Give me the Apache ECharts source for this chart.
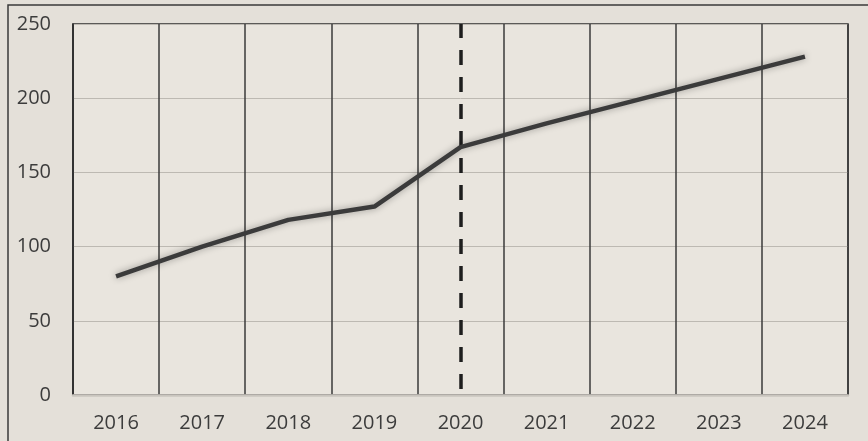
<!DOCTYPE html>
<html>
<head>
<meta charset="utf-8">
<script src="https://cdn.jsdelivr.net/npm/echarts@6/dist/echarts.min.js"></script>
<style>
html,body{margin:0;padding:0;background:#e4e0d9;}
#c{width:868px;height:441px;}
</style>
</head>
<body>
<div id="c"></div>
<script>
var years = ['2016','2017','2018','2019','2020','2021','2022','2023','2024'];
var values = [80, 100, 118, 127, 167, 183, 198, 213, 228];
var yTicks = [0, 50, 100, 150, 200, 250];
var markerYear = '2020';

var chart = echarts.init(document.getElementById('c'), null, {renderer: 'canvas'});
var font = '"Open Sans", "Liberation Sans", sans-serif';
chart.setOption({
  backgroundColor: '#e4e0d9',
  animation: false,
  graphic: [{
    type: 'rect',
    shape: {x: 8, y: 5, width: 900, height: 500},
    style: {fill: null, stroke: '#3a3a3a', lineWidth: 1.5},
    silent: true
  }],
  grid: {
    left: 73, top: 24, right: 20, bottom: 46,
    show: true, borderColor: '#2e2e2e', borderWidth: 1.5,
    backgroundColor: '#e9e5de'
  },
  xAxis: {
    type: 'category',
    data: years,
    boundaryGap: true,
    axisLine: {show: true, lineStyle: {color: '#c9c5be', width: 2.5}},
    axisTick: {show: false},
    splitLine: {show: true, lineStyle: {color: '#3a3a3a', width: 1.5}},
    axisLabel: {color: '#3c3c3c', fontFamily: font, fontSize: 20, margin: 18}
  },
  yAxis: {
    type: 'value',
    min: yTicks[0], max: yTicks[yTicks.length - 1], interval: 50,
    axisLine: {show: true, lineStyle: {color: '#2e2e2e', width: 1.5}},
    axisTick: {show: false},
    splitLine: {show: true, lineStyle: {color: '#bdb9b2', width: 1}},
    axisLabel: {color: '#3c3c3c', fontFamily: font, fontSize: 20, margin: 22}
  },
  series: [{
    type: 'line',
    data: values,
    symbol: 'none',
    lineStyle: {color: '#3b3b3b', width: 4.5, shadowBlur: 7, shadowColor: 'rgba(0,0,0,0.35)'},
    z: 5,
    markLine: {
      silent: true,
      symbol: ['none', 'none'],
      label: {show: false},
      lineStyle: {color: '#1e1e1e', width: 3.5, type: [15, 12], dashOffset: -6},
      data: [{xAxis: markerYear}]
    }
  }]
});
</script>
</body>
</html>
